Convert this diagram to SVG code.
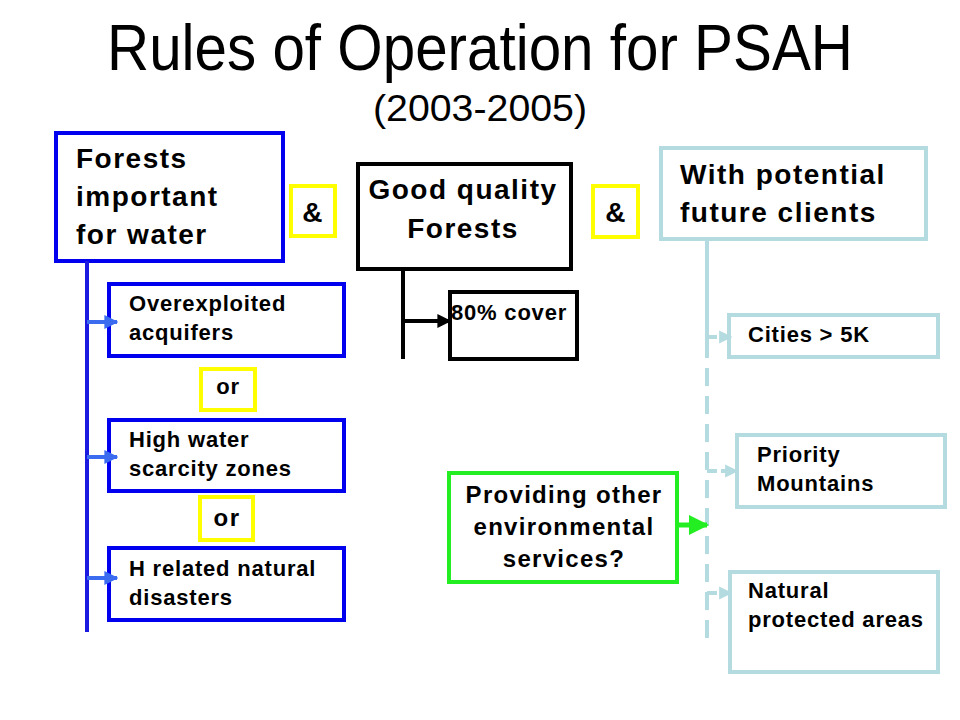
<svg xmlns="http://www.w3.org/2000/svg" width="960" height="720" viewBox="0 0 960 720">
<defs>
<style>
.t{font-family:"Liberation Sans",Arial,sans-serif;fill:#000}
.b{font-family:"Liberation Sans",Arial,sans-serif;font-weight:bold;fill:#000}
.big{font-size:28px;letter-spacing:1.5px}
.mid{font-size:24px;letter-spacing:1.3px}
.sm{font-size:22px;letter-spacing:0.8px}
.blue{fill:#fff;stroke:#0000ee;stroke-width:4}
.yel{fill:#fff;stroke:#ffff00;stroke-width:4}
.blk{fill:#fff;stroke:#000;stroke-width:4}
.lb{fill:#fff;stroke:#b3dbe0;stroke-width:4}
.grn{fill:#fff;stroke:#22ee22;stroke-width:4}
</style>
<marker id="ab" viewBox="0 0 10 10" refX="9" refY="5" markerWidth="3.5" markerHeight="3.5" orient="auto" markerUnits="strokeWidth"><path d="M0,0L10,5L0,10z" fill="#3b6cf0"/></marker>
<marker id="ak" viewBox="0 0 10 10" refX="9" refY="5" markerWidth="3.5" markerHeight="3.5" orient="auto" markerUnits="strokeWidth"><path d="M0,0L10,5L0,10z" fill="#000"/></marker>
<marker id="al" viewBox="0 0 10 10" refX="9" refY="5" markerWidth="3.3" markerHeight="3.3" orient="auto" markerUnits="strokeWidth"><path d="M0,0L10,5L0,10z" fill="#b3dbe0"/></marker>
<marker id="ag" viewBox="0 0 10 10" refX="9" refY="5" markerWidth="4" markerHeight="4" orient="auto" markerUnits="strokeWidth"><path d="M0,0L10,5L0,10z" fill="#22ee22"/></marker>
</defs>
<rect width="960" height="720" fill="#fff"/>
<g id="title">
<text class="t" x="107" y="70" font-size="65" textLength="746" lengthAdjust="spacingAndGlyphs">Rules of Operation for PSAH</text>
<text class="t" x="373" y="121" font-size="37" textLength="214" lengthAdjust="spacingAndGlyphs">(2003-2005)</text>
</g>
<g id="n-water">
<rect class="blue" x="56" y="133" width="227" height="128"/>
<text class="b big" x="76" y="168">Forests</text>
<text class="b big" x="76" y="206">important</text>
<text class="b big" x="76" y="244">for water</text>
</g>
<g id="n-and1">
<rect class="yel" x="291" y="186" width="44" height="50"/>
<text class="b big" x="313" y="222" text-anchor="middle">&amp;</text>
</g>
<g id="n-good">
<rect class="blk" x="358" y="164" width="213" height="105"/>
<text class="b big" x="463" y="199" text-anchor="middle">Good quality</text>
<text class="b big" x="463" y="238" text-anchor="middle">Forests</text>
</g>
<g id="n-and2">
<rect class="yel" x="593" y="186" width="45" height="51"/>
<text class="b big" x="616" y="222" text-anchor="middle">&amp;</text>
</g>
<g id="n-clients">
<rect class="lb" x="661" y="148" width="265" height="91"/>
<text class="b big" x="680" y="184">With potential</text>
<text class="b big" x="680" y="222">future clients</text>
</g>
<g id="n-over">
<rect class="blue" x="109" y="284" width="235" height="72"/>
<text class="b sm" x="129" y="311">Overexploited</text>
<text class="b sm" x="129" y="340">acquifers</text>
</g>
<g id="n-or1">
<rect class="yel" x="201" y="369" width="54" height="41"/>
<text class="b sm" x="228" y="394" text-anchor="middle">or</text>
</g>
<g id="n-high">
<rect class="blue" x="109" y="420" width="235" height="71"/>
<text class="b sm" x="129" y="447">High water</text>
<text class="b sm" x="129" y="476">scarcity zones</text>
</g>
<g id="n-or2">
<rect class="yel" x="200" y="497" width="53" height="43"/>
<text class="b big" x="227" y="526" text-anchor="middle" style="font-size:24px">or</text>
</g>
<g id="n-hrel">
<rect class="blue" x="109" y="548" width="235" height="72"/>
<text class="b sm" x="129" y="576">H related natural</text>
<text class="b sm" x="129" y="605">disasters</text>
</g>
<g id="n-cover">
<rect class="blk" x="450" y="292" width="127" height="67"/>
<text class="b sm" x="451" y="320">80% cover</text>
</g>
<g id="n-cities">
<rect class="lb" x="729" y="315" width="209" height="42"/>
<text class="b sm" x="748" y="342">Cities &gt; 5K</text>
</g>
<g id="n-priority">
<rect class="lb" x="737" y="435" width="208" height="72"/>
<text class="b sm" x="757" y="462">Priority</text>
<text class="b sm" x="757" y="491">Mountains</text>
</g>
<g id="n-natural">
<rect class="lb" x="730" y="572" width="208" height="100"/>
<text class="b sm" x="748" y="598">Natural</text>
<text class="b sm" x="748" y="627">protected areas</text>
</g>
<g id="n-other">
<rect class="grn" x="449" y="473" width="228" height="109"/>
<text class="b mid" x="564" y="503" text-anchor="middle">Providing other</text>
<text class="b mid" x="564" y="535" text-anchor="middle">environmental</text>
<text class="b mid" x="564" y="567" text-anchor="middle">services?</text>
</g>
<g id="connectors">
<line x1="87" y1="261" x2="87" y2="632" stroke="#1a1ae0" stroke-width="4"/>
<line x1="87" y1="322" x2="117" y2="322" stroke="#3b6cf0" stroke-width="4" marker-end="url(#ab)"/>
<line x1="87" y1="457" x2="117" y2="457" stroke="#3b6cf0" stroke-width="4" marker-end="url(#ab)"/>
<line x1="87" y1="578" x2="117" y2="578" stroke="#3b6cf0" stroke-width="4" marker-end="url(#ab)"/>
<line x1="403" y1="269" x2="403" y2="359" stroke="#000" stroke-width="4"/>
<line x1="403" y1="321" x2="450" y2="321" stroke="#000" stroke-width="4" marker-end="url(#ak)"/>
<line x1="707" y1="239" x2="707" y2="340" stroke="#b3dbe0" stroke-width="4"/>
<line x1="707" y1="340" x2="707" y2="647" stroke="#b3dbe0" stroke-width="4" stroke-dasharray="18 10"/>
<line x1="707" y1="337" x2="731" y2="337" stroke="#b3dbe0" stroke-width="4" stroke-dasharray="10 4" marker-end="url(#al)"/>
<line x1="707" y1="471" x2="737" y2="471" stroke="#b3dbe0" stroke-width="4" stroke-dasharray="10 4" marker-end="url(#al)"/>
<line x1="707" y1="593" x2="731" y2="593" stroke="#b3dbe0" stroke-width="4" stroke-dasharray="10 4" marker-end="url(#al)"/>
<line x1="679" y1="525" x2="707" y2="525" stroke="#22ee22" stroke-width="5" marker-end="url(#ag)"/>
</g>
</svg>
